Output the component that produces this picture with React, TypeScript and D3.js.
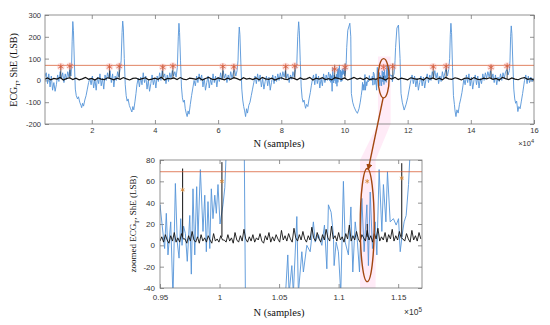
import { useEffect, useRef } from 'react'
import * as d3 from 'd3'

// sample axis (N) is kept in units of 1e4 samples everywhere
// ECG_T trace, [N, LSB]
const ecgPoints: [number, number][] = [
  [0.5, 10], [0.56, 35], [0.6, -15], [0.64, 30], [0.68, -30], [0.72, 20], [0.76, -45], [0.8, -10], [0.84, -50], [0.88, -20],
  [0.92, 25], [0.96, -5], [1.0, 40], [1.04, 10], [1.08, 35], [1.12, -10], [1.16, 30], [1.2, 5], [1.24, 40], [1.28, 15], [1.31, 50], [1.34, 20],
  // beat 1
  [1.36, 60], [1.38, 180], [1.4, 270], [1.42, 230], [1.45, 80], [1.48, -40], [1.51, -70], [1.55, -85], [1.58, -75], [1.62, -100],
  [1.66, -115], [1.68, -125], [1.71, -105], [1.74, -118], [1.78, -90], [1.82, -70], [1.86, -40], [1.9, -10], [1.94, 10],
  [1.98, -20], [2.02, 20], [2.06, -35], [2.1, 5], [2.14, -45], [2.18, 15], [2.22, -15], [2.26, 30], [2.3, -25], [2.34, 10], [2.38, -40],
  [2.42, 25], [2.46, 0], [2.5, 35], [2.54, 10], [2.58, 45], [2.62, -10], [2.66, 30], [2.7, -30], [2.74, 20], [2.78, 0], [2.82, 40], [2.86, 15], [2.9, 55],
  // beat 2
  [2.93, 90], [2.96, 220], [2.98, 272], [3.0, 240], [3.03, 100], [3.06, -20], [3.09, -70], [3.12, -95], [3.15, -85], [3.19, -115],
  [3.23, -130], [3.27, -145], [3.3, -120], [3.33, -135], [3.37, -95], [3.4, -60], [3.43, -20], [3.47, 10],
  [3.51, -30], [3.55, 15], [3.59, -20], [3.63, 35], [3.67, -10], [3.71, 20], [3.75, -40], [3.79, 0], [3.83, -50], [3.87, -15],
  [3.91, 25], [3.95, -20], [3.99, 10], [4.03, -35], [4.07, 20], [4.11, -5], [4.15, 35], [4.19, 0], [4.23, 45], [4.27, 15],
  [4.31, 30], [4.35, -15], [4.39, 25], [4.43, -5], [4.47, 35], [4.51, 10], [4.55, 45], [4.59, 20], [4.63, 40], [4.67, 15],
  // beat 3
  [4.71, 60], [4.74, 200], [4.76, 262], [4.78, 220], [4.81, 90], [4.84, -30], [4.87, -80], [4.9, -100], [4.93, -90], [4.96, -130],
  [4.99, -150], [5.02, -166], [5.05, -140], [5.08, -155], [5.12, -110], [5.16, -70], [5.2, -35], [5.24, 0],
  [5.28, -25], [5.32, 20], [5.36, -10], [5.4, 30], [5.44, 0], [5.48, 25], [5.52, -30], [5.56, 10], [5.6, -45], [5.64, -10],
  [5.68, 20], [5.72, -35], [5.76, 5], [5.8, -20], [5.84, 30], [5.88, -10], [5.92, 20], [5.96, -30], [6.0, 15], [6.04, -5],
  [6.08, 35], [6.12, 5], [6.16, 45], [6.2, 10], [6.24, 30], [6.28, -10], [6.32, 25], [6.36, 0], [6.4, 40], [6.44, 10],
  [6.48, 35], [6.52, 50], [6.56, 20], [6.6, 45],
  // beat 4
  [6.63, 90], [6.65, 190], [6.67, 245], [6.69, 210], [6.72, 80], [6.75, -40], [6.78, -90], [6.81, -120], [6.84, -140], [6.87, -166],
  [6.9, -130], [6.93, -150], [6.97, -115], [7.01, -100], [7.05, -70], [7.09, -40], [7.13, -10],
  [7.17, 20], [7.21, -15], [7.25, 30], [7.29, -5], [7.33, 25], [7.37, -30], [7.41, 10], [7.45, -40], [7.49, -5], [7.53, 20],
  [7.57, -25], [7.61, 15], [7.65, -45], [7.69, -10], [7.73, 25], [7.77, -15], [7.81, 20], [7.85, -5], [7.89, 30], [7.93, 0],
  [7.97, 35], [8.01, 5], [8.05, 40], [8.09, 15], [8.13, 45], [8.17, 10], [8.21, 30], [8.25, -10], [8.29, 25], [8.33, 5],
  [8.37, 40], [8.41, 15], [8.45, 50],
  // beat 5
  [8.49, 70], [8.52, 200], [8.55, 269], [8.57, 230], [8.6, 90], [8.63, -30], [8.66, -80], [8.69, -100], [8.72, -90], [8.75, -115],
  [8.77, -128], [8.8, -110], [8.84, -120], [8.88, -85], [8.92, -55], [8.95, -25], [8.98, 0],
  [9.02, 25], [9.06, -20], [9.1, 30], [9.14, -15], [9.18, 20], [9.22, -35], [9.26, 10], [9.3, -25], [9.34, 30], [9.38, -10],
  [9.42, 25], [9.46, 0],
  // zoomed stretch
  [9.5, 38], [9.517, 20], [9.539, -3], [9.553, 30], [9.567, -9], [9.59, 22], [9.609, -50], [9.629, 58], [9.645, 3], [9.66, -12],
  [9.674, 25], [9.685, 0], [9.698, 18], [9.713, 11], [9.729, -15], [9.75, 28], [9.763, -27], [9.777, 53], [9.792, -9], [9.808, 55],
  [9.819, 7], [9.839, 71], [9.861, 13], [9.876, 47], [9.889, -6], [9.903, 41], [9.918, -3], [9.931, 53], [9.945, 25], [9.96, 47],
  [9.973, 30], [9.987, 57], [10.004, 20], [10.029, 38], [10.044, 54], [10.057, 90], [10.071, 150], [10.105, 230],
  // beat 6
  [10.17, 262], [10.2, 200], [10.218, -60], [10.26, -100], [10.3, -120], [10.36, -140], [10.41, -151], [10.46, -130], [10.5, -100], [10.53, -70],
  [10.556, -42], [10.573, -9], [10.584, -45], [10.607, -19], [10.62, -45], [10.649, 27], [10.662, -45], [10.691, -6], [10.704, -25], [10.733, 0],
  [10.761, -6], [10.788, 22], [10.803, 3], [10.83, 10], [10.859, 0], [10.881, 19], [10.901, -22], [10.914, 38], [10.937, 31], [10.956, 10],
  [10.962, -19], [10.979, 3], [10.998, -6], [11.018, -45], [11.04, 60], [11.055, 3], [11.082, -9], [11.103, 36], [11.119, -25], [11.139, 22],
  [11.158, 3], [11.175, -25], [11.195, 44], [11.214, -6], [11.237, 38], [11.25, -19], [11.265, 50], [11.284, -3], [11.307, 22], [11.321, -9],
  [11.34, 71], [11.363, 13], [11.376, 57], [11.397, 22], [11.41, 69], [11.433, 22], [11.46, 25], [11.483, 19], [11.503, 25], [11.517, -6],
  [11.534, 10], [11.55, 22], [11.567, 28], [11.587, 57], [11.601, 90], [11.618, 150], [11.66, 240],
  // beat 7
  [11.71, 254], [11.76, 100], [11.79, -60], [11.83, -100], [11.89, -136], [11.95, -110], [12.0, -80], [12.05, -40], [12.1, 0],
  [12.14, 25], [12.18, -15], [12.22, 20], [12.26, -30], [12.3, 10], [12.34, -45], [12.38, -10], [12.42, 20], [12.46, -25], [12.5, 15],
  [12.54, -35], [12.58, 5], [12.62, 30], [12.66, -10], [12.7, 25], [12.74, 0], [12.78, 40], [12.82, 15], [12.86, 45], [12.9, 10],
  [12.94, 35], [12.98, -15], [13.02, 20], [13.06, -5], [13.1, 40], [13.14, 10], [13.18, 35], [13.22, 55], [13.26, 20], [13.3, 50],
  // beat 8
  [13.33, 100], [13.35, 210], [13.37, 262], [13.39, 220], [13.42, 60], [13.45, -70], [13.48, -110], [13.5, -140], [13.53, -166], [13.56, -135],
  [13.6, -150], [13.64, -110], [13.68, -85], [13.72, -55], [13.75, -25], [13.78, 5],
  [13.82, -20], [13.86, 25], [13.9, -10], [13.94, 30], [13.98, -25], [14.02, 15], [14.06, -40], [14.1, 0], [14.14, 25], [14.18, -20],
  [14.22, 20], [14.26, -35], [14.3, 10], [14.34, -15], [14.38, 30], [14.42, 0], [14.46, 35], [14.5, 10], [14.54, 40], [14.58, 15],
  [14.62, 45], [14.66, 5], [14.7, 30], [14.74, -10], [14.78, 25], [14.82, -20], [14.86, 15], [14.9, -5], [14.94, 30], [14.98, 0],
  [15.02, 35], [15.06, 10], [15.1, 40], [15.14, 50], [15.18, 25], [15.22, 45],
  // beat 9
  [15.24, 90], [15.26, 200], [15.28, 250], [15.3, 215], [15.33, 80], [15.36, -40], [15.39, -85], [15.42, -105], [15.45, -95], [15.49, -143],
  [15.52, -120], [15.56, -130], [15.6, -95], [15.64, -60], [15.67, -30], [15.7, 0],
  [15.74, 25], [15.78, -15], [15.82, 20], [15.86, -10], [15.9, 15], [15.94, -5], [15.98, 10], [16.0, 0],
]

// ShE envelope, whole record: starts at 0.5, one value every 0.1
const sheStart = 0.5
const sheStep = 0.1
const sheValues = [
  5, 11, 3, 9, 6, 13, 2, 8, 12, 4, 10, 3, 7, 14, 5, 9, 2, 11, 6, 4,
  12, 8, 3, 10, 5, 13, 7, 2, 9, 11, 4, 8, 12, 3, 6, 10, 5, 14, 2, 9,
  7, 11, 4, 13, 6, 3, 10, 8, 5, 12, 2, 9, 14, 6, 4, 11, 7, 3, 10, 5,
  13, 8, 2, 12, 6, 9, 4, 11, 3, 14, 7, 5, 10, 2, 8, 12, 6, 4, 13, 9,
  3, 11, 5, 7, 14, 2, 10, 6, 12, 4, 8, 3, 13, 9, 5, 11, 2, 7, 14, 6,
  10, 4, 12, 3, 8, 5, 13, 9, 2, 11, 6, 14, 4, 10, 7, 3, 12, 8, 5, 9,
  2, 13, 6, 11, 4, 10, 3, 14, 7, 5, 12, 8, 2, 9, 11, 4, 13, 6, 3, 10,
  7, 12, 5, 9, 2, 14, 8, 4, 11, 6, 3, 10, 13, 5, 8, 2,
]

// ShE envelope, zoomed stretch: starts at 9.5, one value every 0.015
const sheZoomStart = 9.5
const sheZoomStep = 0.015
const sheZoomValues = [
  4, 8, 3, 10, 5, 2, 9, 4, 12, 3, 7, 3, 11, 6, 6, 2, 9, 4, 13, 5,
  3, 8, 2, 10, 4, 7, 3, 9, 5, 2, 11, 4, 6, 3, 9, 5, 5, 3, 10, 4,
  7, 2, 12, 5, 3, 9, 4, 15, 6, 3, 8, 4, 10, 3, 7, 5, 11, 4, 2, 9,
  5, 12, 3, 8, 4, 10, 6, 3, 14, 5, 9, 4, 11, 6, 3, 16, 7, 4, 10, 5,
  13, 6, 3, 9, 5, 17, 7, 4, 12, 6, 3, 10, 5, 15, 7, 4, 18, 6, 9, 4,
  12, 5, 8, 3, 11, 6, 19, 4, 9, 5, 13, 6, 3, 10, 7, 4, 14, 5, 9, 3,
  11, 6, 16, 4, 8, 5, 12, 3, 10, 6, 15, 4, 9, 5, 13, 7, 6, 4, 11, 6,
  3, 14, 5, 9, 4, 12, 6,
]

// detections: position, marker height, ShE spike height
const detX = [1.02, 1.31, 2.56, 2.87, 4.25, 4.57, 6.15, 6.5, 8.14, 8.43, 9.69, 10.02, 11.24, 11.53, 12.81, 13.22, 14.64, 15.15]
const detY = [63, 66, 62, 65, 60, 66, 64, 62, 63, 66, 52, 60, 60, 63, 62, 65, 60, 66]
const spikeY = [70, 72, 70, 72, 70, 72, 70, 72, 70, 72, 72, 78, 20, 77, 70, 72, 70, 72]

const threshold = 69

// highlighted (zoomed-in) event
const eventX = 11.24

const topXTicks = [2, 4, 6, 8, 10, 12, 14, 16]
const topYTicks = [-200, -100, 0, 100, 200, 300]
const zoomXTicks = [9.5, 10, 10.5, 11, 11.5]
const zoomYTicks = [-40, -20, 0, 20, 40, 60, 80]

const W = 550
const H = 325
const tickFont = '"Liberation Sans", Arial, sans-serif'
const labelFont = '"Liberation Serif", "Times New Roman", serif'
const blue = '#5594d8'
const brown = '#a2460f'

type Box = { left: number; right: number; top: number; bottom: number }

const App = () => {
  const svgRef = useRef<SVGSVGElement | null>(null)

  useEffect(() => {
    if (!svgRef.current) return
    const svg = d3.select(svgRef.current)
    svg.selectAll('*').remove()
    svg.attr('width', W).attr('height', H)
    svg.append('rect').attr('width', W).attr('height', H).attr('fill', 'white')
    const defs = svg.append('defs')

    defs
      .append('marker')
      .attr('id', 'arrow')
      .attr('viewBox', '0 0 10 10')
      .attr('refX', 9)
      .attr('refY', 5)
      .attr('markerWidth', 6)
      .attr('markerHeight', 6)
      .attr('markerUnits', 'userSpaceOnUse')
      .attr('orient', 'auto')
      .append('path')
      .attr('d', 'M0,0 L10,5 L0,10 z')
      .attr('fill', brown)

    const shePoints: [number, number][] = sheValues.map((v, i) => [sheStart + i * sheStep, v])
    const sheZoomPoints: [number, number][] = sheZoomValues.map((v, i) => [sheZoomStart + i * sheZoomStep, v])

    const topBox: Box = { left: 45, right: 534, top: 15, bottom: 124 }
    const zoomBox: Box = { left: 160, right: 422, top: 160, bottom: 288 }

    const xTop = d3.scaleLinear().domain([0.52, 16]).range([topBox.left, topBox.right])
    const yTop = d3.scaleLinear().domain([-200, 300]).range([topBox.bottom, topBox.top])
    const xZoom = d3.scaleLinear().domain([9.5, 11.7]).range([zoomBox.left, zoomBox.right])
    const yZoom = d3.scaleLinear().domain([-40, 80]).range([zoomBox.bottom, zoomBox.top])

    // pink highlight band, drawn behind everything
    const pinkTop = yTop(110)
    svg
      .append('path')
      .attr(
        'd',
        d3.line()([
          [xTop(11.06), pinkTop],
          [xTop(11.46), pinkTop],
          [xTop(11.46), topBox.bottom],
          [xZoom(11.31), zoomBox.top],
          [xZoom(11.31), zoomBox.bottom],
          [xZoom(11.18), zoomBox.bottom],
          [xZoom(11.18), zoomBox.top],
          [xTop(11.06), topBox.bottom],
        ]) + 'Z'
      )
      .attr('fill', '#ff70c8')
      .attr('opacity', 0.14)

    const drawPanel = (
      id: string,
      box: Box,
      x: d3.ScaleLinear<number, number>,
      y: d3.ScaleLinear<number, number>,
      xTicks: number[],
      yTicks: number[],
      xFmt: (d: number) => string,
      fontSize: number,
      xPad: number,
      yPad: number
    ) => {
      defs
        .append('clipPath')
        .attr('id', id)
        .append('rect')
        .attr('x', box.left)
        .attr('y', box.top)
        .attr('width', box.right - box.left)
        .attr('height', box.bottom - box.top)

      const tick = 4
      const axes = [
        svg.append('g').attr('transform', `translate(0,${box.bottom})`)
          .call(d3.axisBottom(x).tickValues(xTicks).tickFormat((d) => xFmt(d as number)).tickSizeInner(-tick).tickSizeOuter(0).tickPadding(xPad)),
        svg.append('g').attr('transform', `translate(${box.left},0)`)
          .call(d3.axisLeft(y).tickValues(yTicks).tickFormat((d) => String(d)).tickSizeInner(-tick).tickSizeOuter(0).tickPadding(yPad)),
        svg.append('g').attr('transform', `translate(0,${box.top})`)
          .call(d3.axisTop(x).tickValues(xTicks).tickFormat(() => '').tickSizeInner(-tick).tickSizeOuter(0)),
        svg.append('g').attr('transform', `translate(${box.right},0)`)
          .call(d3.axisRight(y).tickValues(yTicks).tickFormat(() => '').tickSizeInner(-tick).tickSizeOuter(0)),
      ]
      axes.forEach((a) => {
        a.select('.domain').remove()
        a.selectAll('line').attr('stroke', '#777').attr('stroke-width', 0.8)
        a.selectAll('text')
          .attr('font-family', tickFont)
          .attr('font-size', fontSize)
          .attr('fill', '#333')
      })

      const g = svg.append('g').attr('clip-path', `url(#${id})`)
      return g
    }

    const topG = drawPanel('clipTop', topBox, xTop, yTop, topXTicks, topYTicks, (d) => String(d), 7.5, 4, 4)
    const zoomG = drawPanel('clipZoom', zoomBox, xZoom, yZoom, zoomXTicks, zoomYTicks, (d) => String(+(d / 10).toFixed(2)), 8, 6, 5)

    const plotData = (
      g: d3.Selection<SVGGElement, unknown, null, undefined>,
      x: d3.ScaleLinear<number, number>,
      y: d3.ScaleLinear<number, number>,
      she: [number, number][],
      sheWidth: number,
      starSize: number,
      halo: boolean
    ) => {
      const line = d3.line<[number, number]>().x((d) => x(d[0])).y((d) => y(d[1]))

      g.append('path').datum(ecgPoints).attr('d', line).attr('fill', 'none').attr('stroke', blue).attr('stroke-width', 0.9)

      g.append('path').datum(she).attr('d', line).attr('fill', 'none').attr('stroke', '#111').attr('stroke-width', sheWidth)

      // ShE spikes at the detections
      g.selectAll('line.spike')
        .data(detX)
        .join('line')
        .attr('class', 'spike')
        .attr('x1', (d) => x(d))
        .attr('x2', (d) => x(d))
        .attr('y1', y(8))
        .attr('y2', (_, i) => y(spikeY[i]))
        .attr('stroke', '#111')
        .attr('stroke-width', halo ? 0.7 : 1)

      // threshold
      g.append('line')
        .attr('x1', x.range()[0])
        .attr('x2', x.range()[1])
        .attr('y1', y(threshold))
        .attr('y2', y(threshold))
        .attr('stroke', '#d9623a')
        .attr('stroke-width', 0.8)

      if (halo) {
        g.selectAll('circle.halo')
          .data(detX)
          .join('circle')
          .attr('class', 'halo')
          .attr('cx', (d) => x(d))
          .attr('cy', (_, i) => y(detY[i]))
          .attr('r', 3.8)
          .attr('fill', '#f7a3a3')
          .attr('opacity', 0.3)
      }

      const star = d3.symbol().type(d3.symbolAsterisk).size(starSize)
      g.selectAll('path.star')
        .data(detX)
        .join('path')
        .attr('class', 'star')
        .attr('transform', (d, i) => `translate(${x(d)},${y(detY[i])})`)
        .attr('d', star)
        .attr('fill', 'none')
        .attr('stroke', halo ? '#d9603e' : '#d98a3a')
        .attr('stroke-width', 0.8)
    }

    plotData(topG, xTop, yTop, shePoints, 1.2, 26, true)
    plotData(zoomG, xZoom, yZoom, sheZoomPoints, 0.9, 14, false)

    // box outlines
    ;[topBox, zoomBox].forEach((b) => {
      svg.append('rect')
        .attr('x', b.left)
        .attr('y', b.top)
        .attr('width', b.right - b.left)
        .attr('height', b.bottom - b.top)
        .attr('fill', 'none')
        .attr('stroke', '#777')
        .attr('stroke-width', 0.8)
    })

    // ellipses + arrow around the highlighted event
    const topE = { cx: xTop(eventX), y1: yTop(100), y2: yTop(-80) }
    svg.append('ellipse')
      .attr('cx', topE.cx)
      .attr('cy', (topE.y1 + topE.y2) / 2)
      .attr('rx', 5.5)
      .attr('ry', (topE.y2 - topE.y1) / 2)
      .attr('fill', 'none')
      .attr('stroke', brown)
      .attr('stroke-width', 1.4)

    const zoomE = { cx: xZoom(eventX), y1: yZoom(72), y2: yZoom(-34) }
    svg.append('ellipse')
      .attr('cx', zoomE.cx)
      .attr('cy', (zoomE.y1 + zoomE.y2) / 2)
      .attr('rx', 7)
      .attr('ry', (zoomE.y2 - zoomE.y1) / 2)
      .attr('fill', 'none')
      .attr('stroke', brown)
      .attr('stroke-width', 1.4)

    svg.append('line')
      .attr('x1', topE.cx - 0.5)
      .attr('y1', topE.y2)
      .attr('x2', zoomE.cx + 1)
      .attr('y2', zoomE.y1 + 1)
      .attr('stroke', brown)
      .attr('stroke-width', 1.4)
      .attr('marker-end', 'url(#arrow)')

    // axis titles
    const xTitle = (yPos: number) =>
      svg.append('text')
        .attr('x', 279)
        .attr('y', yPos)
        .attr('text-anchor', 'middle')
        .attr('font-family', labelFont)
        .attr('font-size', 10.5)
        .attr('fill', '#111')
        .text('N (samples)')
    xTitle(147)
    xTitle(316)

    const yTitle = (cx: number, cy: number, prefix: string, size: number) => {
      const t = svg.append('text')
        .attr('transform', `translate(${cx},${cy}) rotate(-90)`)
        .attr('text-anchor', 'middle')
        .attr('font-family', labelFont)
        .attr('font-size', size)
        .attr('fill', '#111')
      t.append('tspan').text(prefix + 'ECG')
      t.append('tspan').attr('dy', size * 0.3).attr('font-size', size * 0.7).text('T')
      t.append('tspan').attr('dy', -size * 0.3).text(', ShE (LSB)')
    }
    yTitle(17, 70, '', 10)
    yTitle(136, 224, 'zoomed ', 9)

    // exponent labels
    const expo = (xPos: number, yPos: number, p: string, size: number) => {
      const t = svg.append('text')
        .attr('x', xPos)
        .attr('y', yPos)
        .attr('text-anchor', 'end')
        .attr('font-family', tickFont)
        .attr('font-size', size)
        .attr('fill', '#333')
      t.append('tspan').text('×10')
      t.append('tspan').attr('dy', -size * 0.4).attr('font-size', size * 0.75).text(p)
    }
    expo(topBox.right, 146, '4', 7.5)
    expo(zoomBox.right, 315, '5', 8.5)
  }, [])

  return <svg ref={svgRef} style={{ position: 'absolute', left: 0, top: 0 }}></svg>
}

export default App
